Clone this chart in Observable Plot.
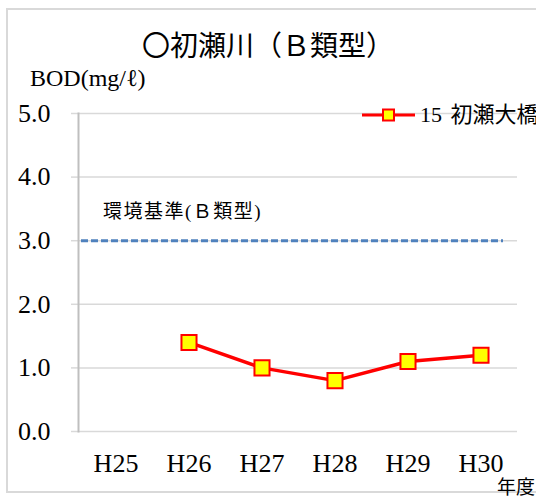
<!DOCTYPE html>
<html>
<head>
<meta charset="utf-8">
<script src="https://cdn.jsdelivr.net/npm/d3@7"></script>
<script src="https://cdn.jsdelivr.net/npm/@observablehq/plot@0.6"></script>
<style>
  html, body { margin: 0; padding: 0; background: #fff; overflow: hidden; }
  #wrap { position: relative; width: 536px; height: 497px; overflow: hidden; color: #000; }
  #border { position: absolute; left: 6px; top: 8px; width: 560px; height: 485px;
            border: 2px solid #d9d9d9; box-sizing: border-box; }
  .t { position: absolute; white-space: nowrap; line-height: 1;
       font-family: Liberation Serif, Noto Sans CJK JP, serif; }
  #chart { position: absolute; left: 0; top: 0; }
</style>
</head>
<body>
<div id="wrap">
  <div id="border"></div>
  <div id="chart"></div>
  <div class="t" id="title" style="left:0;width:536px;text-align:center;top:33px;font-size:28px;">〇初瀬川（Ｂ類型）</div>
  <div class="t" id="ylab" style="left:30px;top:66px;font-size:24px;">BOD(mg/ℓ)</div>
  <div class="t" id="std" style="left:103px;top:202px;font-size:19px;letter-spacing:1.5px;">環境基準(Ｂ類型)</div>
  <div class="t" id="unit" style="left:497px;top:478px;font-size:19px;">年度</div>
  <div class="t" id="legend" style="left:362px;top:104px;font-size:22px;display:flex;align-items:center;">
    <svg width="54" height="22" style="display:block">
      <line x1="0" y1="11" x2="53" y2="11" stroke="#ff0000" stroke-width="3"></line>
      <rect x="21" y="5.5" width="11" height="11" fill="#ffff00" stroke="#ff0000" stroke-width="2"></rect>
    </svg>
    <span style="margin-left:4px;word-spacing:3px;">15 初瀬大橋</span>
  </div>
</div>
<script>
const years = ["H25", "H26", "H27", "H28", "H29", "H30"];
const bod = [null, 1.4, 1.0, 0.8, 1.1, 1.2];
const yTicks = [0, 1, 2, 3, 4, 5];
const standard = 3.0;

const data = years.map((y, i) => ({year: y, value: bod[i]}));
const pts = data.filter(d => d.value != null);

const chart = Plot.plot({
  width: 536,
  height: 497,
  marginLeft: 78,
  marginRight: 19,
  marginTop: 113,
  marginBottom: 66,
  style: {fontFamily: "Liberation Serif, Noto Sans CJK JP, serif", background: "transparent", color: "#000"},
  x: {type: "band", domain: years, padding: 0},
  y: {domain: [0, 5]},
  marks: [
    Plot.gridY(yTicks, {stroke: "#d9d9d9", strokeOpacity: 1, strokeWidth: 1.5}),
    Plot.axisY(yTicks, {tickSize: 7, tickPadding: 21, tickFormat: d3.format(".1f"), fontSize: 26, stroke: "#d9d9d9", strokeWidth: 1.5, label: null}),
    Plot.frame({anchor: "left", stroke: "#bfbfbf", strokeWidth: 2}),
    Plot.axisX({tickSize: 0, tickPadding: 22, fontSize: 26, label: null}),
    Plot.ruleY([standard], {stroke: "#4f81bd", strokeWidth: 3, strokeDasharray: "7,3", insetLeft: 3, insetRight: 14}),
    Plot.line(pts, {x: "year", y: "value", stroke: "#ff0000", strokeWidth: 3.5}),
    Plot.dot(pts, {x: "year", y: "value", symbol: "square", r: 8.5, fill: "#ffff00", stroke: "#ff0000", strokeWidth: 2})
  ]
});
document.getElementById("chart").appendChild(chart);
</script>
</body>
</html>
